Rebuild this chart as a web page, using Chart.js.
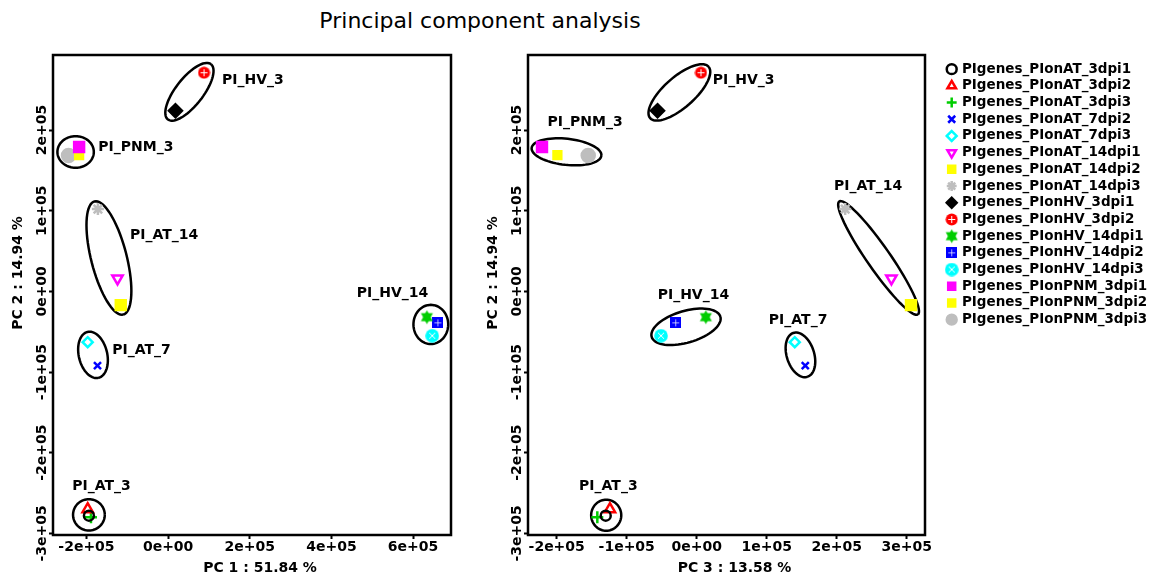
<!DOCTYPE html>
<html>
<head>
<meta charset="utf-8">
<script src="https://cdn.jsdelivr.net/npm/chart.js@4.4.1/dist/chart.umd.min.js"></script>
<style>
  body { margin: 0; background: #fff; width: 1154px; height: 580px; position: relative; overflow: hidden; }
  #title { position: absolute; left: 0; top: 8px; width: 960px; text-align: center;
           font: 22px/26px 'DejaVu Sans', sans-serif; color: #000; }
  #c1 { position: absolute; left: 0; top: 0; }
  #c2 { position: absolute; left: 470px; top: 0; }
</style>
</head>
<body>
<div id="title">Principal component analysis</div>
<canvas id="c1" width="470" height="580"></canvas>
<canvas id="c2" width="684" height="580"></canvas>
<script>
// samples
const sampleNames = [
  'PIgenes_PIonAT_3dpi1', 'PIgenes_PIonAT_3dpi2', 'PIgenes_PIonAT_3dpi3',
  'PIgenes_PIonAT_7dpi2', 'PIgenes_PIonAT_7dpi3',
  'PIgenes_PIonAT_14dpi1', 'PIgenes_PIonAT_14dpi2', 'PIgenes_PIonAT_14dpi3',
  'PIgenes_PIonHV_3dpi1', 'PIgenes_PIonHV_3dpi2',
  'PIgenes_PIonHV_14dpi1', 'PIgenes_PIonHV_14dpi2', 'PIgenes_PIonHV_14dpi3',
  'PIgenes_PIonPNM_3dpi1', 'PIgenes_PIonPNM_3dpi2', 'PIgenes_PIonPNM_3dpi3'
];
const pc1 = [-1.94e5, -1.97e5, -1.89e5, -1.73e5, -1.97e5, -1.24e5, -1.16e5, -1.72e5,
             0.18e5, 0.88e5, 6.34e5, 6.61e5, 6.47e5, -2.18e5, -2.18e5, -2.44e5];
const pc2 = [-2.78e5, -2.70e5, -2.80e5, -0.92e5, -0.63e5, 0.16e5, -0.17e5, 1.02e5,
             2.24e5, 2.71e5, -0.32e5, -0.39e5, -0.55e5, 1.79e5, 1.69e5, 1.685e5];
const pc3 = [-1.30e5, -1.24e5, -1.42e5, 1.55e5, 1.40e5, 2.78e5, 3.06e5, 2.12e5,
             -0.56e5, 0.06e5, 0.13e5, -0.30e5, -0.51e5, -2.21e5, -1.99e5, -1.55e5];
const sampleColors = ['#000000', '#ff0000', '#00cd00', '#0000ff', '#00ffff', '#ff00ff', '#ffff00', '#bebebe',
                      '#000000', '#ff0000', '#00cd00', '#0000ff', '#00ffff', '#ff00ff', '#ffff00', '#bebebe'];

// axes
const pc1Ticks = [-2e5, 0, 2e5, 4e5, 6e5];
const pc1TickLabels = ['-2e+05', '0e+00', '2e+05', '4e+05', '6e+05'];
const pc3Ticks = [-2e5, -1e5, 0, 1e5, 2e5, 3e5];
const pc3TickLabels = ['-2e+05', '-1e+05', '0e+00', '1e+05', '2e+05', '3e+05'];
const pc2Ticks = [-3e5, -2e5, -1e5, 0, 1e5, 2e5];
const pc2TickLabels = ['-3e+05', '-2e+05', '-1e+05', '0e+00', '1e+05', '2e+05'];

// groups: ellipse = centre x, centre y, half-axis a (dx, dy), half-axis b (dx, dy), in data units
const groupNames = ['PI_AT_3', 'PI_AT_7', 'PI_AT_14', 'PI_HV_3', 'PI_HV_14', 'PI_PNM_3'];
const ellipsesPc1 = [
  [-1.94e5, -2.77e5, 0.389e5, 0, 0, 0.194e5],
  [-1.84e5, -0.787e5, 0.138e5, -0.284e5, 0.337e5, 0.044e5],
  [-1.45e5, 0.414e5, 0.355e5, -0.701e5, 0.42e5, 0.058e5],
  [0.522e5, 2.474e5, 0.532e5, 0.341e5, 0.257e5, -0.109e5],
  [6.436e5, -0.41e5, 0.426e5, 0, 0, 0.243e5],
  [-2.266e5, 1.728e5, 0.446e5, 0, 0, 0.196e5]
];
const ellipsesPc3 = [
  [-1.293e5, -2.775e5, 0.215e5, 0, 0, 0.192e5],
  [1.481e5, -0.787e5, 0.103e5, -0.271e5, 0.185e5, 0.056e5],
  [2.597e5, 0.414e5, 0.562e5, -0.70e5, 0.132e5, 0.085e5],
  [-0.248e5, 2.466e5, 0.419e5, 0.317e5, 0.138e5, -0.147e5],
  [-0.153e5, -0.439e5, 0.491e5, 0.124e5, 0.06e5, -0.189e5],
  [-1.86e5, 1.73e5, 0.498e5, -0.047e5, -0.019e5, -0.161e5]
];
const labelPosPc1 = [[-2.35e5, -2.42e5], [-1.37e5, -0.73e5], [-0.935e5, 0.70e5],
                     [1.32e5, 2.62e5], [4.62e5, -0.02e5], [-1.71e5, 1.787e5]];
const labelPosPc3 = [[-1.68e5, -2.415e5], [1.03e5, -0.354e5], [1.96e5, 1.30e5],
                     [0.23e5, 2.61e5], [-0.558e5, -0.047e5], [-2.13e5, 2.09e5]];

const FONT = "'DejaVu Sans', sans-serif";

function marker(size, draw) {
  const c = document.createElement('canvas');
  c.width = c.height = size;
  draw(c.getContext('2d'), size / 2);
  return c;
}
const redPlus = marker(13, (g, m) => {
  g.fillStyle = '#ff0000'; g.beginPath(); g.arc(m, m, 6, 0, Math.PI * 2); g.fill();
  g.strokeStyle = '#fff'; g.lineWidth = 1;
  g.beginPath(); g.moveTo(m - 3.5, m); g.lineTo(m + 3.5, m); g.moveTo(m, m - 3.5); g.lineTo(m, m + 3.5); g.stroke();
});
const greenStar = marker(15, (g, m) => {
  g.fillStyle = '#00cd00';
  g.beginPath(); g.moveTo(m, m - 7); g.lineTo(m + 6, m + 4); g.lineTo(m - 6, m + 4); g.closePath(); g.fill();
  g.beginPath(); g.moveTo(m, m + 7); g.lineTo(m + 6, m - 4); g.lineTo(m - 6, m - 4); g.closePath(); g.fill();
});
const bluePlus = marker(11, (g, m) => {
  g.fillStyle = '#0000ff'; g.fillRect(0, 0, 11, 11);
  g.strokeStyle = 'rgba(255,255,255,0.7)'; g.lineWidth = 1;
  g.beginPath(); g.moveTo(2, m); g.lineTo(9, m); g.moveTo(m, 2); g.lineTo(m, 9); g.stroke();
});
const cyanX = marker(14, (g, m) => {
  g.fillStyle = '#00ffff'; g.beginPath(); g.arc(m, m, 6.8, 0, Math.PI * 2); g.fill();
  g.strokeStyle = '#fff'; g.lineWidth = 1;
  g.beginPath(); g.moveTo(m - 3, m - 3); g.lineTo(m + 3, m + 3); g.moveTo(m + 3, m - 3); g.lineTo(m - 3, m + 3); g.stroke();
});

const markerStyle = [
  { s: 'circle', r: 5 }, { s: 'triangle', r: 6 }, { s: 'cross', r: 6 }, { s: 'crossRot', r: 5 },
  { s: 'rectRot', r: 5 }, { s: 'triangle', r: 6, rot: 180 }, { s: 'rect', r: 7, fill: true },
  { s: 'star', r: 6 }, { s: 'rectRot', r: 6.5, fill: true }, { s: redPlus, r: 6 },
  { s: greenStar, r: 7 }, { s: bluePlus, r: 6 }, { s: cyanX, r: 7 },
  { s: 'rect', r: 7, fill: true }, { s: 'rect', r: 5.5, fill: true }, { s: 'circle', r: 6.5, fill: true }
];

function makeDatasets(xs) {
  return sampleNames.map((name, i) => ({
    label: name,
    data: [{ x: xs[i], y: pc2[i] }],
    pointStyle: markerStyle[i].s,
    pointRadius: markerStyle[i].r,
    pointRotation: markerStyle[i].rot || 0,
    borderColor: sampleColors[i],
    backgroundColor: markerStyle[i].fill ? sampleColors[i] : 'rgba(0,0,0,0)',
    borderWidth: 2.5
  }));
}

function decor(ellipses, labelPos, xTitle, yTitle) {
  return {
    id: 'decor',
    beforeDatasetsDraw(chart) {
      const { ctx, scales: { x, y } } = chart;
      ctx.save();
      ctx.strokeStyle = '#000';
      ctx.lineWidth = 2.5;
      ellipses.forEach(e => {
        const px = x.getPixelForValue(e[0]), py = y.getPixelForValue(e[1]);
        const ax = x.getPixelForValue(e[0] + e[2]) - px, ay = y.getPixelForValue(e[1] + e[3]) - py;
        const bx = x.getPixelForValue(e[0] + e[4]) - px, by = y.getPixelForValue(e[1] + e[5]) - py;
        ctx.beginPath();
        for (let k = 0; k <= 72; k++) {
          const t = k / 72 * Math.PI * 2;
          const qx = px + ax * Math.cos(t) + bx * Math.sin(t);
          const qy = py + ay * Math.cos(t) + by * Math.sin(t);
          k ? ctx.lineTo(qx, qy) : ctx.moveTo(qx, qy);
        }
        ctx.stroke();
      });
      ctx.fillStyle = '#000';
      ctx.font = 'bold 14px ' + FONT;
      ctx.textAlign = 'left';
      ctx.textBaseline = 'middle';
      groupNames.forEach((g, i) => {
        ctx.fillText(g, x.getPixelForValue(labelPos[i][0]), y.getPixelForValue(labelPos[i][1]));
      });
      ctx.restore();
    },
    afterDraw(chart) {
      const { ctx, chartArea: a, scales: { y } } = chart;
      ctx.save();
      ctx.strokeStyle = '#000';
      ctx.lineWidth = 2.5;
      ctx.strokeRect(a.left, a.top, a.right - a.left, a.bottom - a.top);
      ctx.fillStyle = '#000';
      ctx.font = 'bold 14px ' + FONT;
      ctx.textAlign = 'center';
      ctx.textBaseline = 'middle';
      pc2Ticks.forEach((v, i) => {
        ctx.save();
        ctx.translate(a.left - 11, y.getPixelForValue(v));
        ctx.rotate(-Math.PI / 2);
        ctx.fillText(pc2TickLabels[i], 0, 0);
        ctx.restore();
      });
      ctx.fillText(xTitle, (a.left + a.right) / 2 + 8, 568);
      ctx.translate(a.left - 35, (a.top + a.bottom) / 2 - 22);
      ctx.rotate(-Math.PI / 2);
      ctx.fillText(yTitle, 0, 0);
      ctx.restore();
    }
  };
}

function makeChart(id, xs, xMin, xMax, xTicks, xTickLabels, ellipses, labelPos, xTitle, padLeft, padRight, withLegend) {
  const scales = {
    x: {
      type: 'linear', min: xMin, max: xMax,
      afterBuildTicks: s => { s.ticks = xTicks.map(v => ({ value: v })); },
      afterFit: s => { s.height = 45; },
      ticks: { autoSkip: false, maxRotation: 0, padding: 0, color: '#000',
               font: { family: FONT, size: 14, weight: 'bold' },
               callback: (v, i) => xTickLabels[i] },
      grid: { drawOnChartArea: false, drawTicks: true, tickLength: 4, tickWidth: 2, tickColor: '#000' },
      border: { display: false }
    },
    y: {
      type: 'linear', min: -3.02e5, max: 2.93e5,
      afterBuildTicks: s => { s.ticks = pc2Ticks.map(v => ({ value: v })); },
      afterFit: s => { s.width = 53; },
      ticks: { display: false },
      grid: { drawOnChartArea: false, drawTicks: true, tickLength: 4, tickWidth: 2, tickColor: '#000' },
      border: { display: false }
    }
  };
  if (withLegend) {
    // blank strip between the plot frame and the legend
    scales.gap = {
      type: 'linear', position: 'right', display: true,
      ticks: { display: false }, grid: { display: false }, border: { display: false },
      afterFit: s => { s.width = 20; }
    };
  }
  return new Chart(document.getElementById(id), {
    type: 'scatter',
    data: { datasets: makeDatasets(xs) },
    options: {
      responsive: false,
      animation: false,
      layout: { padding: { top: 55, left: padLeft, right: padRight, bottom: 0 } },
      scales: scales,
      plugins: {
        tooltip: { enabled: false },
        legend: {
          display: withLegend, position: 'right', align: 'start', maxWidth: 209,
          title: { display: true, text: ' ', padding: 0, font: { size: 3.5 } },
          labels: { usePointStyle: true, boxWidth: 7, boxHeight: 7, padding: 3.2, color: '#000',
                    font: { family: FONT, size: 13.5, weight: 'bold' } }
        }
      }
    },
    plugins: [decor(ellipses, labelPos, xTitle, 'PC 2 : 14.94 %')]
  });
}

makeChart('c1', pc1, -2.82e5, 6.93e5, pc1Ticks, pc1TickLabels, ellipsesPc1, labelPosPc1,
          'PC 1 : 51.84 %', 0, 19, false);
makeChart('c2', pc3, -2.41e5, 3.26e5, pc3Ticks, pc3TickLabels, ellipsesPc3, labelPosPc3,
          'PC 3 : 13.58 %', 5, 0, true);
</script>
</body>
</html>
